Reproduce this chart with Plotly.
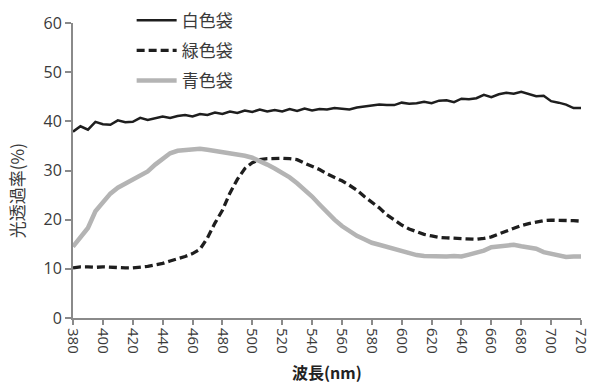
import plotly.graph_objects as go

# Wavelength grid (nm)
wavelength = list(range(380, 721, 5))

# Light transmittance (%) of each bag
white_bag = [37.9, 39.0, 38.3, 39.9, 39.4, 39.3, 40.2, 39.8, 39.9, 40.7,
             40.3, 40.6, 41.0, 40.7, 41.1, 41.3, 41.0, 41.5, 41.3, 41.8,
             41.5, 42.0, 41.7, 42.2, 41.9, 42.4, 42.0, 42.3, 42.0, 42.5,
             42.1, 42.6, 42.2, 42.5, 42.4, 42.7, 42.6, 42.4, 42.8, 43.0,
             43.2, 43.4, 43.3, 43.3, 43.8, 43.6, 43.7, 44.0, 43.7, 44.2,
             44.3, 43.9, 44.6, 44.5, 44.7, 45.4, 44.9, 45.5, 45.8, 45.6,
             46.0, 45.6, 45.1, 45.2, 44.1, 43.8, 43.4, 42.7, 42.7]

green_bag = [10.2, 10.4, 10.4, 10.3, 10.4, 10.3, 10.2, 10.2, 10.2, 10.3,
             10.5, 10.8, 11.1, 11.6, 12.0, 12.5, 13.1, 14.0, 16.3, 19.3,
             21.9, 25.4, 28.2, 30.4, 31.6, 32.2, 32.4, 32.5, 32.5, 32.4,
             32.2, 31.5, 30.9, 30.2, 29.3, 28.6, 27.9, 27.0, 26.0, 24.7,
             23.6, 22.4, 21.0, 19.9, 18.9, 18.1, 17.5, 17.0, 16.7, 16.4,
             16.3, 16.2, 16.1, 16.0, 16.0, 16.2, 16.5, 17.1, 17.7, 18.3,
             18.8, 19.2, 19.5, 19.8, 19.9, 19.9, 19.8, 19.8, 19.7]

blue_bag = [14.5, 16.4, 18.3, 21.7, 23.4, 25.3, 26.5, 27.3, 28.2, 29.1,
            29.8, 31.2, 32.5, 33.5, 34.0, 34.1, 34.2, 34.4, 34.2, 34.0,
            33.8, 33.5, 33.3, 33.0, 32.6, 32.0, 31.2, 30.4, 29.6, 28.6,
            27.4, 26.1, 24.7, 23.1, 21.5, 20.0, 18.7, 17.6, 16.7, 16.0,
            15.3, 14.9, 14.5, 14.0, 13.6, 13.1, 12.8, 12.6, 12.5, 12.4,
            12.5, 12.6, 12.5, 12.9, 13.3, 13.7, 14.4, 14.5, 14.8, 14.9,
            14.6, 14.4, 14.1, 13.4, 13.1, 12.7, 12.4, 12.5, 12.5]

series_names = ["白色袋", "緑色袋", "青色袋"]

CJK = "Noto Sans CJK JP"
NUM = "Open Sans"
AXIS_GRAY = "#8a8a8a"
TEXT = "#3a3a3a"

fig = go.Figure()
fig.add_trace(go.Scatter(x=wavelength, y=white_bag, name=series_names[0],
                         mode="lines", legendgroup="a",
                         line=dict(color="#1e1e1e", width=2.5)))
fig.add_trace(go.Scatter(x=wavelength, y=green_bag, name=series_names[1],
                         mode="lines", legendgroup="b",
                         line=dict(color="#1e1e1e", width=3.3, dash="8px,4px")))
fig.add_trace(go.Scatter(x=wavelength, y=blue_bag, name=series_names[2],
                         mode="lines", legendgroup="c",
                         line=dict(color="#b4b4b4", width=4.5)))

fig.update_layout(
    width=593, height=387,
    margin=dict(l=73, r=12, t=23, b=69, autoexpand=False),
    paper_bgcolor="white", plot_bgcolor="white",
    font=dict(family=NUM, size=16, color=TEXT),
    legend=dict(xref="container", yref="container",
                x=0.222, y=0.993, xanchor="left", yanchor="top",
                bgcolor="rgba(0,0,0,0)", tracegroupgap=5,
                font=dict(family=CJK, size=17, color=TEXT),
                itemwidth=40),
    showlegend=True,
    annotations=[
        dict(text="光透過率(%)", textangle=-90, xref="paper", yref="paper",
             x=-0.112, y=0.43, xanchor="center", yanchor="middle",
             showarrow=False, font=dict(family=CJK, size=17, color=TEXT)),
        dict(text="<b>波長(nm)</b>", xref="paper", yref="paper",
             x=0.5, y=-0.183, xanchor="center", yanchor="middle",
             showarrow=False, font=dict(family=CJK, size=16, color="#222")),
    ],
)

fig.update_xaxes(
    range=[380, 720], tick0=380, dtick=20, tickangle=90,
    ticklabeloverflow="allow", automargin=False,
    showgrid=False, zeroline=False,
    showline=True, linecolor=AXIS_GRAY, linewidth=2,
    ticks="outside", ticklen=5, tickcolor=AXIS_GRAY, tickwidth=1.5,
    tickfont=dict(family=NUM, size=15, color=TEXT),
)
fig.update_yaxes(
    range=[0, 60], dtick=10, automargin=False,
    showgrid=False, zeroline=False,
    showline=True, linecolor=AXIS_GRAY, linewidth=2,
    ticks="outside", ticklen=6, tickcolor=AXIS_GRAY, tickwidth=1.5,
    tickfont=dict(family=NUM, size=16, color=TEXT),
)

fig.write_html("out.html")
